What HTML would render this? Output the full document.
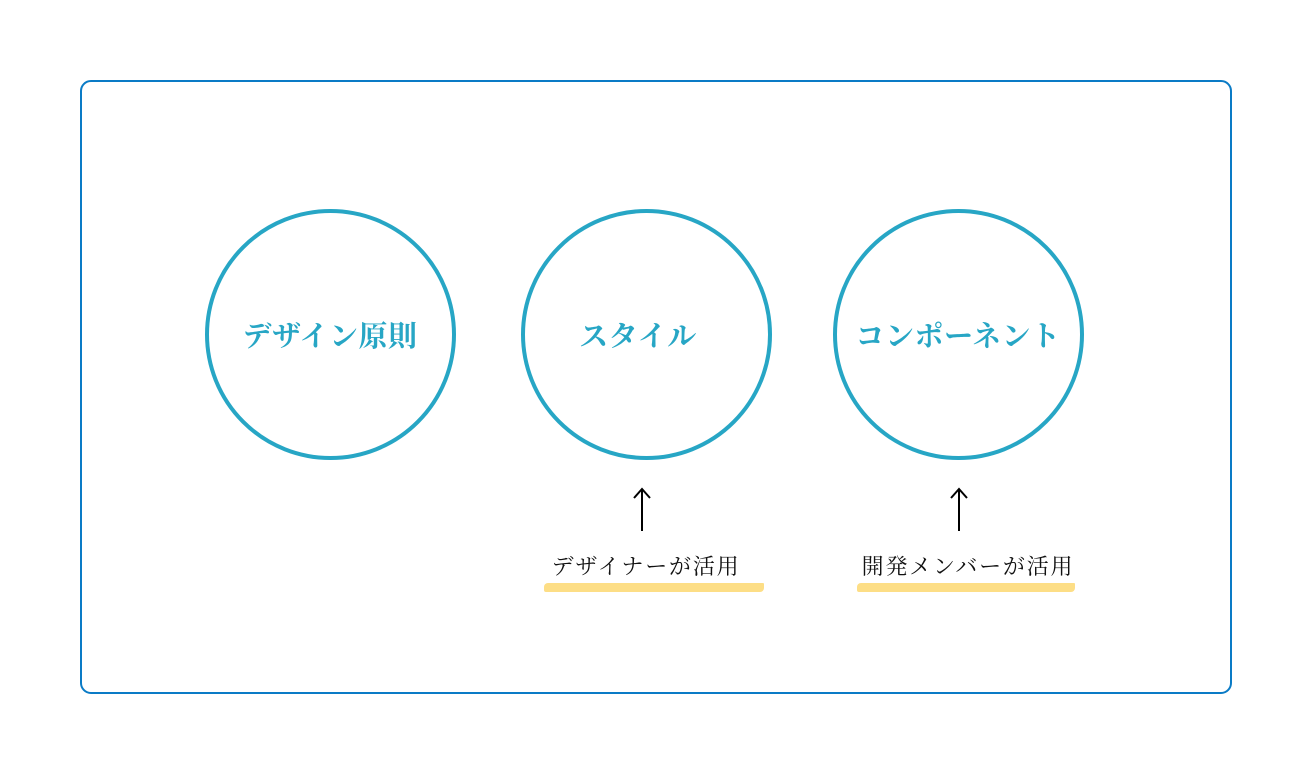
<!DOCTYPE html>
<html><head><meta charset="utf-8"><style>
html,body{margin:0;padding:0;background:#fff;}
body{width:1312px;height:774px;position:relative;overflow:hidden;}
.box{position:absolute;left:80px;top:80px;width:1148px;height:610px;border:2px solid #0a7bc6;border-radius:11px;}
.c{position:absolute;width:243px;height:243px;border:4px solid #27a6c5;border-radius:50%;box-sizing:content-box;}
.lbl{position:absolute;width:400px;text-align:center;font-family:"Liberation Serif","Noto Serif CJK SC",serif;font-weight:bold;font-size:29px;color:#27a6c5;line-height:32px;letter-spacing:0.5px;}
.t{position:absolute;width:400px;text-align:center;font-family:"Liberation Serif","Noto Serif CJK SC",serif;font-size:22px;color:#111;line-height:26px;letter-spacing:1.8px;}
.hl{position:absolute;height:9px;background:#fdde86;border-radius:4px 1px 4px 2px;}
</style></head><body>
<div class="box"></div>
<div class="c" style="left:205px;top:209px"></div>
<div class="c" style="left:521px;top:209px"></div>
<div class="c" style="left:833px;top:209px"></div>
<div class="lbl" style="left:130px;top:321px">デザイン原則</div>
<div class="lbl" style="left:438px;top:321px">スタイル</div>
<div class="lbl" style="left:758px;top:321px">コンポーネント</div>
<svg style="position:absolute;left:0;top:0" width="1312" height="774">
<g stroke="#000" stroke-width="2" fill="none">
<line x1="642" y1="490" x2="642" y2="531"/><polyline points="634,498 642,489 650,498"/>
<line x1="959" y1="490" x2="959" y2="531"/><polyline points="951,498 959,489 967,498"/>
</g></svg>
<div class="hl" style="left:544px;top:583px;width:220px"></div>
<div class="hl" style="left:857px;top:583px;width:218px"></div>
<div class="t" style="left:446px;top:554px">デザイナーが活用</div>
<div class="t" style="left:768px;top:554px">開発メンバーが活用</div>
</body></html>
